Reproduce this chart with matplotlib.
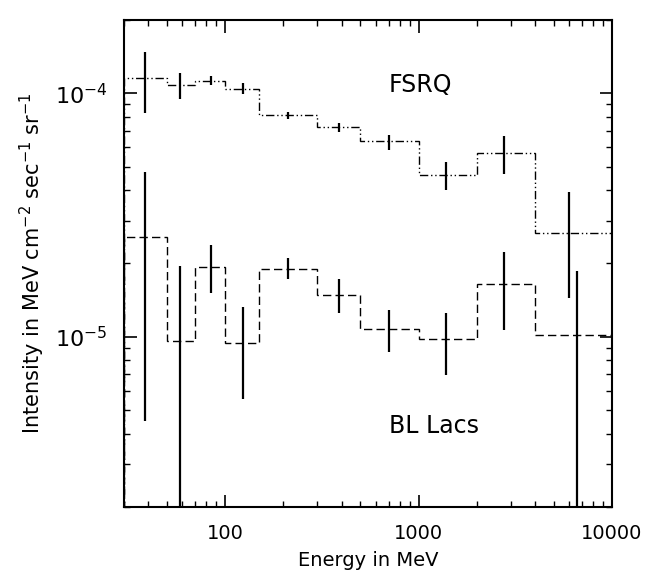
import numpy as np
import matplotlib
matplotlib.use('Agg')
from matplotlib import pyplot as plt
from matplotlib.ticker import FixedLocator, FixedFormatter

# energy bins (MeV)
edges = [30, 50, 70, 100, 150, 300, 500, 1000, 2000, 4000, 10000]
centers_fsrq = [38.5, 58.6, 84.7, 123, 212, 387, 700, 1390, 2770, 6000]
centers_bl = [38.5, 58.6, 84.7, 123, 212, 387, 700, 1390, 2770, 6600]
xticks = [100, 1000, 10000]
xtick_labels = ['100', '1000', '10000']

# FSRQ intensity and error bar ends
fsrq = [1.15e-4, 1.08e-4, 1.125e-4, 1.045e-4, 8.15e-5, 7.3e-5, 6.37e-5, 4.63e-5, 5.71e-5, 2.67e-5]
fsrq_hi = [1.47e-4, 1.21e-4, 1.18e-4, 1.10e-4, 8.4e-5, 7.58e-5, 6.75e-5, 5.2e-5, 6.69e-5, 3.93e-5]
fsrq_lo = [8.28e-5, 9.45e-5, 1.08e-4, 9.93e-5, 7.85e-5, 6.96e-5, 5.86e-5, 4.02e-5, 4.67e-5, 1.445e-5]

# BL Lacs intensity and error bar ends
bl = [2.58e-5, 9.6e-6, 1.94e-5, 9.45e-6, 1.9e-5, 1.49e-5, 1.08e-5, 9.8e-6, 1.64e-5, 1.016e-5]
bl_hi = [4.73e-5, 1.95e-5, 2.39e-5, 1.33e-5, 2.11e-5, 1.73e-5, 1.29e-5, 1.25e-5, 2.23e-5, 1.87e-5]
bl_lo = [4.51e-6, 1e-7, 1.51e-5, 5.53e-6, 1.72e-5, 1.25e-5, 8.69e-6, 6.94e-6, 1.07e-5, 1e-7]

fig = plt.figure(figsize=(6.48, 5.71), dpi=100)
ax = fig.add_axes([0.1914, 0.1121, 0.753, 0.853])

ax.stairs(fsrq, edges, color='k', lw=1.0, linestyle=(0, (6, 2, 1, 2, 1, 2)))
ax.stairs(bl, edges, color='k', lw=1.0, linestyle=(0, (6, 3)))

f = np.array(fsrq)
ax.errorbar(centers_fsrq, f, yerr=[f - np.array(fsrq_lo), np.array(fsrq_hi) - f],
            fmt='none', ecolor='k', elinewidth=1.6, capsize=0)
b = np.array(bl)
ax.errorbar(centers_bl, b, yerr=[b - np.array(bl_lo), np.array(bl_hi) - b],
            fmt='none', ecolor='k', elinewidth=1.6, capsize=0)

ax.set_xscale('log')
ax.set_yscale('log')
ax.set_xlim(30, 10000)
ax.set_ylim(2e-6, 2e-4)
ax.xaxis.set_major_locator(FixedLocator(xticks))
ax.xaxis.set_major_formatter(FixedFormatter(xtick_labels))

ax.text(700, 1.08e-4, 'FSRQ', fontsize=17, va='center', ha='left')
ax.text(700, 4.3e-6, 'BL Lacs', fontsize=17, va='center', ha='left')

ax.set_xlabel('Energy in MeV', fontsize=14, labelpad=6)
ax.set_ylabel(r'Intensity in MeV cm$^{-2}$ sec$^{-1}$ sr$^{-1}$', fontsize=15, labelpad=6)

ax.tick_params(which='both', direction='in', top=True, right=True, labelsize=14)
ax.tick_params(axis='y', labelsize=16)
ax.tick_params(which='major', length=9, width=1.2, pad=12)
ax.tick_params(which='minor', length=4.5, width=1.0)
for s in ax.spines.values():
    s.set_linewidth(1.5)

plt.savefig('out.png', dpi=100)
